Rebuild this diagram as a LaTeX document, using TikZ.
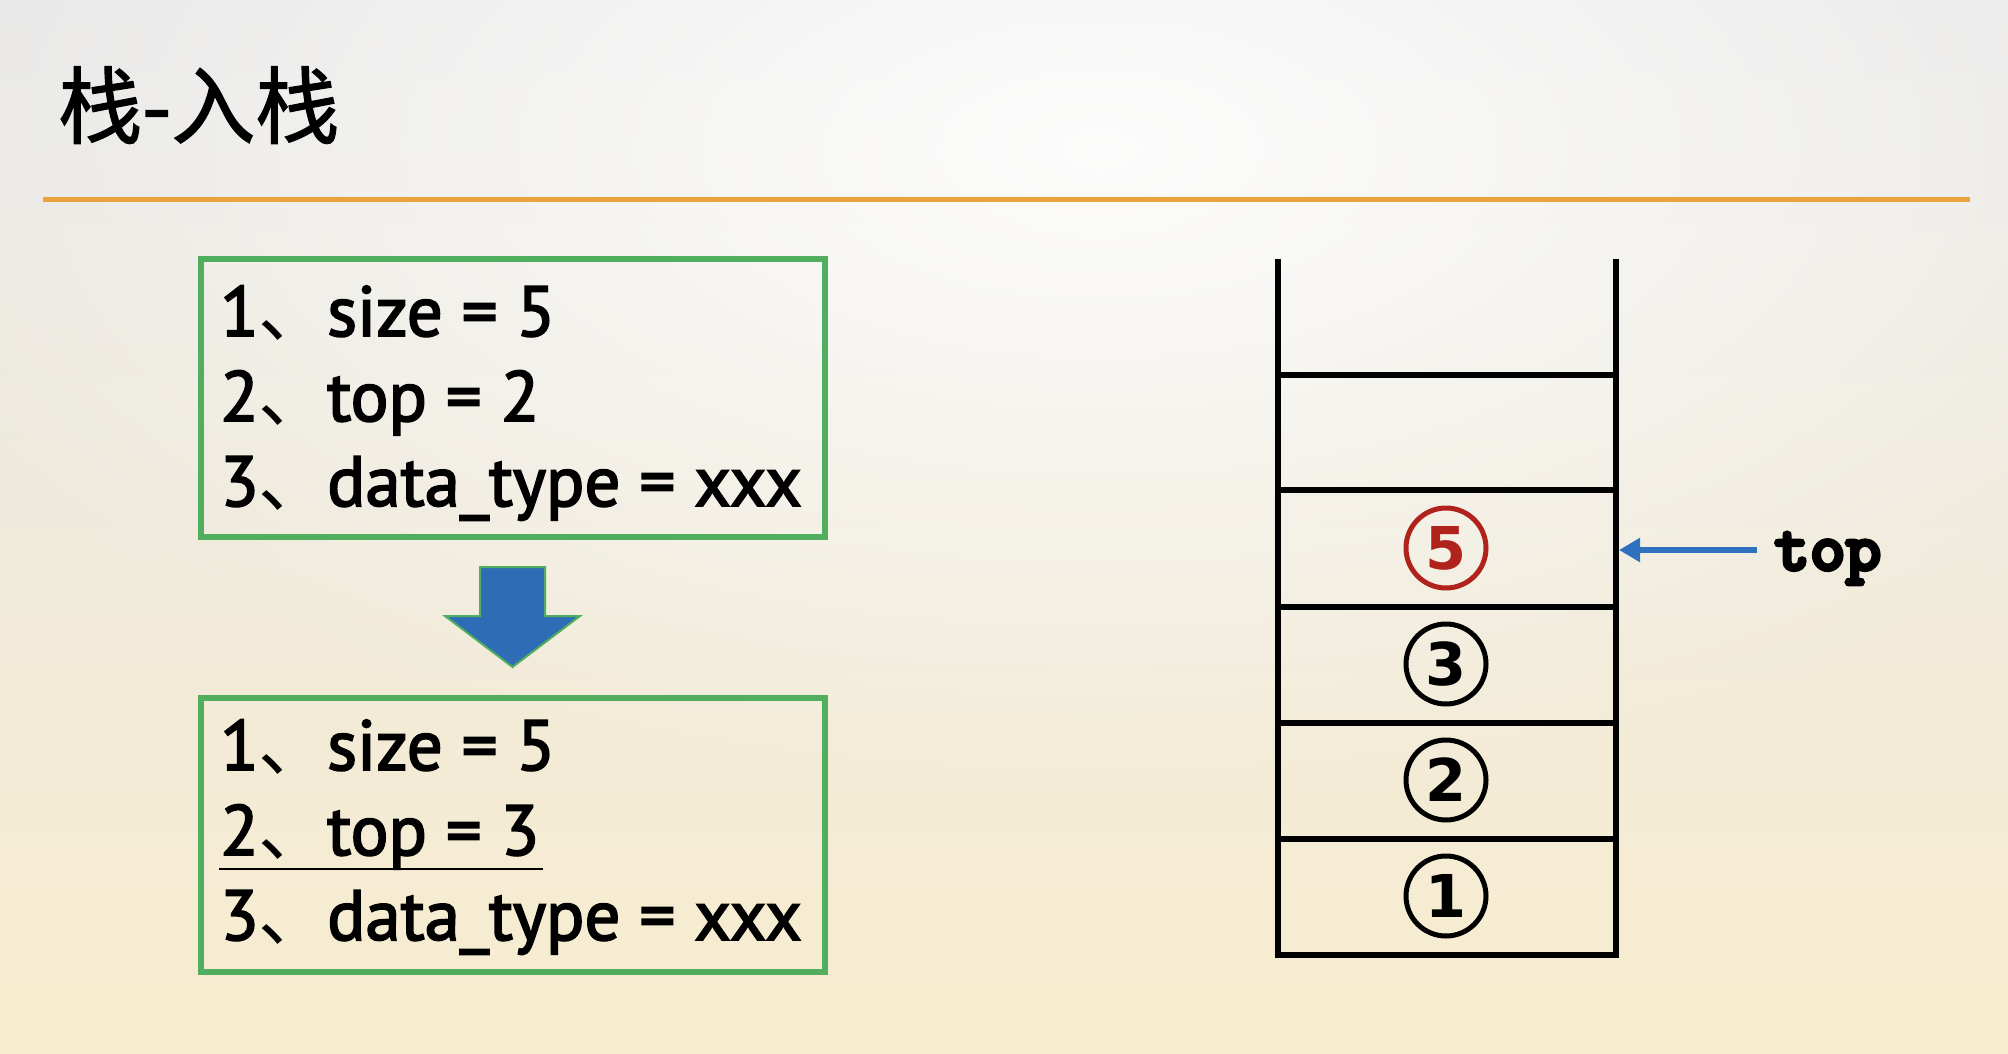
\documentclass[tikz,border=0pt]{standalone}
\usepackage{fontspec}
\setmainfont{PT Sans}
\newfontfamily\bodyfont{PT Sans}[FakeBold=2.5]
\newfontfamily\cjkfont{Noto Sans CJK SC}
\newfontfamily\titlefont{Noto Sans CJK SC}[FakeBold=1.5]
\newfontfamily\codefont{lmmonolt10-bold.otf}[FakeBold=5]
\newfontfamily\digfont{DejaVu Sans}
\usetikzlibrary{arrows.meta,fadings}
\tikzfading[name=softglow, inner color=transparent!0, outer color=transparent!100]
\definecolor{bgtop}{HTML}{E6E6E6}
\definecolor{bgmid}{HTML}{F7F6F1}
\definecolor{bgbot}{HTML}{F8EDCF}
\definecolor{rulecol}{HTML}{E8A33E}
\definecolor{boxgreen}{HTML}{52AE5F}
\definecolor{arrowblue}{HTML}{2E6DB6}
\definecolor{pointblue}{HTML}{2F70BF}
\definecolor{numred}{HTML}{B0221C}
\tikzset{
  infobox/.style={draw=boxgreen, line width=6pt},
  linetxt/.style={anchor=base west, inner sep=0pt, font=\bodyfont\fontsize{71}{71}\selectfont},
  wall/.style={line width=6pt, black},
  cellnum/.style={circle, draw, line width=5pt, minimum size=80pt, inner sep=0pt,
                  font=\digfont\bfseries\fontsize{59}{59}\selectfont},
}
\begin{document}
\begin{tikzpicture}[x=1pt,y=-1pt]
\useasboundingbox (0,0) rectangle (2008,1054);
\shade[top color=bgtop, middle color=bgmid, bottom color=bgbot] (0,0) rectangle (2008,1054);
\begin{scope}
\clip (0,0) rectangle (2008,1054);
\fill[white, fill opacity=0.9, path fading=softglow] (1100,150) ellipse [x radius=1300, y radius=650];
\end{scope}

% title and rule
\node[anchor=base west, inner sep=0pt, font=\titlefont\fontsize{84}{84}\selectfont] (title) at (58,137) {栈-入栈};
\draw[rulecol, line width=5pt] (43,199) -- (1970,199);

% top box
\draw[infobox] (201,259) rectangle (825,537);
\node[linetxt] (a1n) at (220,336) {1{\cjkfont 、}};
\node[linetxt] (a1t) at (327,336) {size = 5};
\node[linetxt] (a2n) at (220,421) {2{\cjkfont 、}};
\node[linetxt] (a2t) at (327,421) {top = 2};
\node[linetxt] (a3n) at (220,506) {3{\cjkfont 、}};
\node[linetxt] (a3t) at (327,506) {data\_type = xxx};

% block arrow
\filldraw[fill=arrowblue, draw=boxgreen, line width=2pt, line join=miter]
  (480,567) -- (545,567) -- (545,616) -- (580,616) -- (512.5,667) -- (445,616) -- (480,616) -- cycle;

% bottom box
\draw[infobox] (201,698) rectangle (825,972);
\node[linetxt] (b1n) at (220,770) {1{\cjkfont 、}};
\node[linetxt] (b1t) at (327,770) {size = 5};
\node[linetxt] (b2n) at (220,855) {2{\cjkfont 、}};
\node[linetxt] (b2t) at (327,855) {top = 3};
\node[linetxt] (b3n) at (220,940) {3{\cjkfont 、}};
\node[linetxt] (b3t) at (327,940) {data\_type = xxx};
\draw[line width=2pt] (219,869) -- (543,869);

% stack
\draw[wall] (1278,259) -- (1278,955);
\draw[wall] (1616,259) -- (1616,955);
\draw[wall] (1275,955) -- (1619,955);
\draw[wall] (1278,375) -- (1616,375);
\foreach \yy in {490,607,723,839} \draw[wall] (1281,\yy) -- (1613,\yy);

\node[cellnum, numred] (c5) at (1446,548) {5};
\node[cellnum] (c3) at (1446,664) {3};
\node[cellnum] (c2) at (1446,780) {2};
\node[cellnum] (c1) at (1446,896) {1};

% top pointer
\node[anchor=base west, inner sep=0pt, font=\codefont\fontsize{68}{68}\selectfont] (toplbl) at (1774,570) {top};
\coordinate (ptrfrom) at (1757,550);
\coordinate (ptrto) at (1619,550);
\draw[pointblue, line width=6pt, -{Triangle[length=21pt,width=23pt]}] (ptrfrom) -- (ptrto);
\end{tikzpicture}
\end{document}
